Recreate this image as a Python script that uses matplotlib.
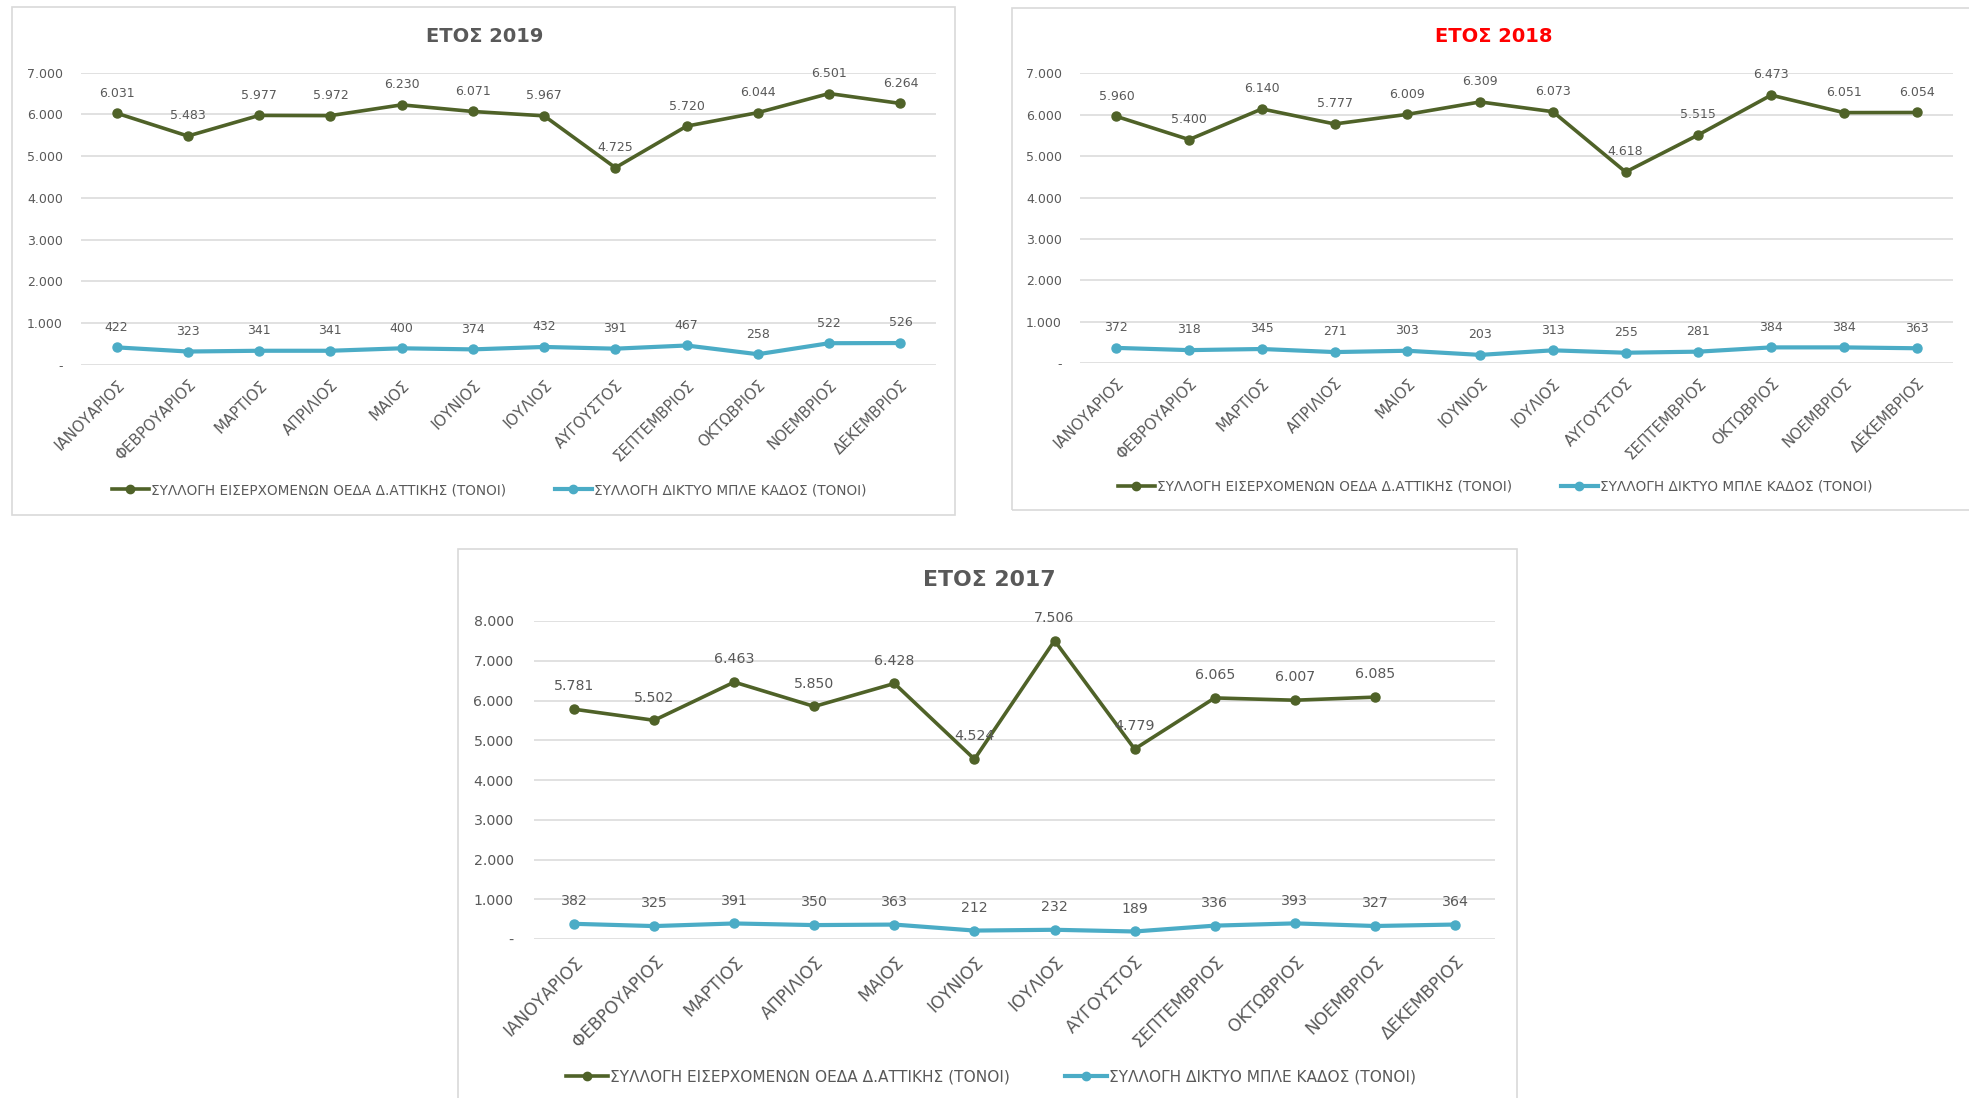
import matplotlib
matplotlib.use("Agg")
import matplotlib.pyplot as plt
from matplotlib.patches import Rectangle
from matplotlib.lines import Line2D

plt.rcParams['font.family'] = ['DejaVu Sans']

months = ["ΙΑΝΟΥΑΡΙΟΣ", "ΦΕΒΡΟΥΑΡΙΟΣ", "ΜΑΡΤΙΟΣ", "ΑΠΡΙΛΙΟΣ", "ΜΑΙΟΣ", "ΙΟΥΝΙΟΣ",
          "ΙΟΥΛΙΟΣ", "ΑΥΓΟΥΣΤΟΣ", "ΣΕΠΤΕΜΒΡΙΟΣ", "ΟΚΤΩΒΡΙΟΣ", "ΝΟΕΜΒΡΙΟΣ", "ΔΕΚΕΜΒΡΙΟΣ"]
series_green_name = "ΣΥΛΛΟΓΗ ΕΙΣΕΡΧΟΜΕΝΩΝ ΟΕΔΑ Δ.ΑΤΤΙΚΗΣ (ΤΟΝΟΙ)"
series_blue_name = "ΣΥΛΛΟΓΗ ΔΙΚΤΥΟ ΜΠΛΕ ΚΑΔΟΣ (ΤΟΝΟΙ)"

green_2019 = [6031, 5483, 5977, 5972, 6230, 6071, 5967, 4725, 5720, 6044, 6501, 6264]
blue_2019 = [422, 323, 341, 341, 400, 374, 432, 391, 467, 258, 522, 526]
green_2018 = [5960, 5400, 6140, 5777, 6009, 6309, 6073, 4618, 5515, 6473, 6051, 6054]
blue_2018 = [372, 318, 345, 271, 303, 203, 313, 255, 281, 384, 384, 363]
green_2017 = [5781, 5502, 6463, 5850, 6428, 4524, 7506, 4779, 6065, 6007, 6085]
blue_2017 = [382, 325, 391, 350, 363, 212, 232, 189, 336, 393, 327, 364]

titles = ["ΕΤΟΣ 2019", "ΕΤΟΣ 2018", "ΕΤΟΣ 2017"]
ymax_list = [7000, 7000, 8000]

GREEN = "#4F6228"
BLUE = "#4BACC6"
TXT = "#595959"
GRID = "#D9D9D9"

W, H = 1969, 1098
fig = plt.figure(figsize=(W / 100, H / 100), dpi=100)


def fx(x):
    return x / W


def fy(y):
    return 1 - y / H


def fmt(v):
    return f"{v:,}".replace(",", ".")


# layout: (axes l, r, t, b), frame (l, r, t, b), title xy, title color, legend xy, scale
layouts = [
    dict(ax=(81, 936, 72.7, 365), frame=(12, 955, 7, 515), title=(485, 36), tcolor=TXT,
         leg=(489, 490), s=1.0),
    dict(ax=(1080, 1953, 73.3, 363.3), frame=(1012, 1972, 8, 510), title=(1494, 37), tcolor="#FF0000",
         leg=(1495, 487), s=1.0),
    dict(ax=(534, 1495, 621, 939), frame=(458, 1517, 548.5, 1110), title=(989, 580), tcolor=TXT,
         leg=(991, 1077), s=1.13),
]
greens = [green_2019, green_2018, green_2017]
blues = [blue_2019, blue_2018, blue_2017]

for i, L in enumerate(layouts):
    s = L['s']
    fl, fr, ft, fb = L['frame']
    fig.patches.append(Rectangle((fx(fl), fy(fb)), fx(fr - fl), (fb - ft) / H,
                                 transform=fig.transFigure, fill=False,
                                 edgecolor=GRID, linewidth=1.2, zorder=0))
    l, r, t, b = L['ax']
    ax = fig.add_axes([fx(l), fy(b), fx(r - l), (b - t) / H])
    g = greens[i]
    bl = blues[i]
    xg = list(range(len(g)))
    xb = list(range(len(bl)))
    ax.plot(xg, g, color=GREEN, lw=2.6, marker='o', ms=6.5, zorder=3, solid_capstyle='round')
    ax.plot(xb, bl, color=BLUE, lw=3.0, marker='o', ms=6.5, zorder=3, solid_capstyle='round')
    for x, v in zip(xg, g):
        ax.annotate(fmt(v), (x, v), xytext=(0, 14.5 * s), textcoords='offset points',
                    ha='center', va='center', fontsize=9 * s, color=TXT, zorder=4)
    for x, v in zip(xb, bl):
        ax.annotate(fmt(v), (x, v), xytext=(0, 14.5 * s), textcoords='offset points',
                    ha='center', va='center', fontsize=9 * s, color=TXT, zorder=4)
    ymax = ymax_list[i]
    ax.set_xlim(-0.5, 11.5)
    ax.set_ylim(0, ymax)
    yt = list(range(0, ymax + 1, 1000))
    ax.set_yticks(yt)
    ax.set_yticklabels(["-" if v == 0 else fmt(v) for v in yt])
    ax.set_xticks(range(12))
    ax.set_xticklabels(months, rotation=45, ha='right', rotation_mode='anchor')
    ax.tick_params(axis='x', length=0, pad=9 * s, labelsize=10.8 * s, labelcolor=TXT)
    ax.tick_params(axis='y', length=0, pad=13 * s, labelsize=9 * s, labelcolor=TXT)
    ax.grid(axis='y', color=GRID, lw=1.1, zorder=0)
    ax.set_axisbelow(True)
    for sp in ax.spines.values():
        sp.set_visible(False)
    ax.set_facecolor('none')
    tx, ty = L['title']
    fig.text(fx(tx), fy(ty), titles[i], ha='center', va='center', fontsize=14 * s,
             fontweight='bold', color=L['tcolor'])
    handles = [Line2D([], [], color=GREEN, lw=2.6, marker='o', ms=6),
               Line2D([], [], color=BLUE, lw=3.0, marker='o', ms=6)]
    lx, ly = L['leg']
    fig.legend(handles, [series_green_name, series_blue_name], loc='center',
               bbox_to_anchor=(fx(lx), fy(ly)), ncol=2, frameon=False,
               fontsize=9.8 * s, labelcolor=TXT, handlelength=2.7, handletextpad=0.15,
               columnspacing=3.6, borderpad=0, borderaxespad=0)

fig.savefig("out.png", dpi=100, facecolor='white')
